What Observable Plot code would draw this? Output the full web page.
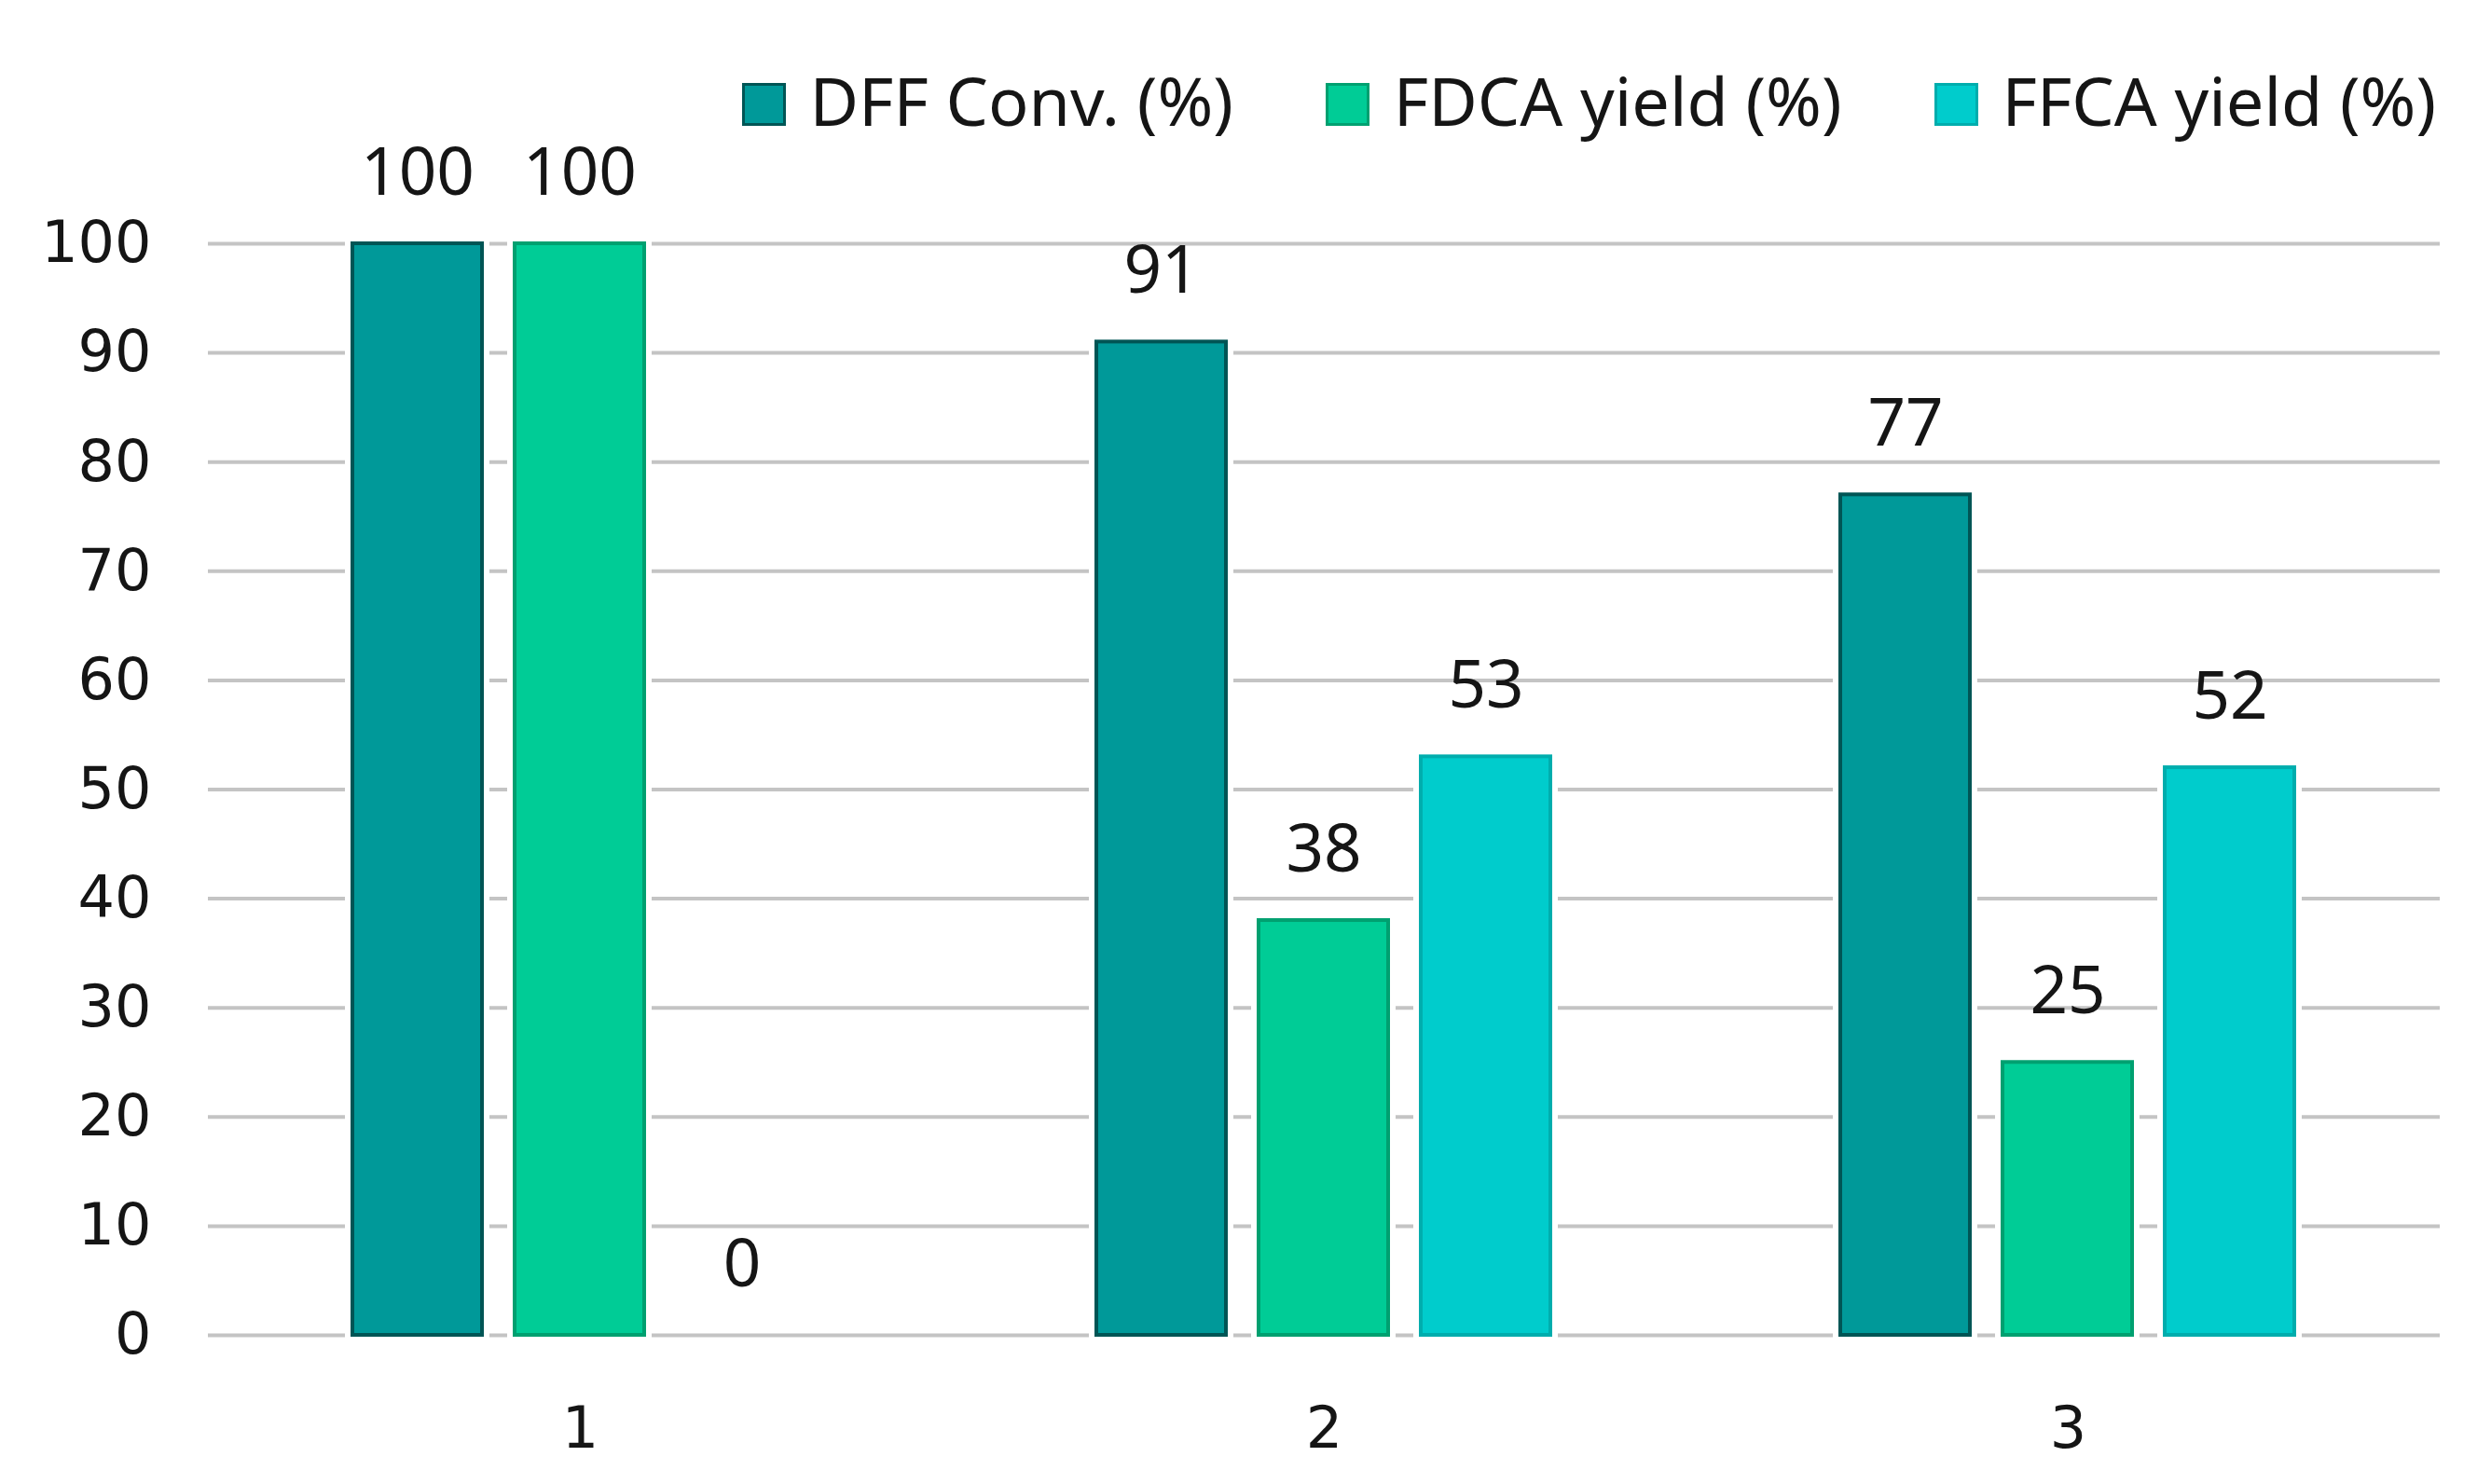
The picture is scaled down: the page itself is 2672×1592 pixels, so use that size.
<!DOCTYPE html>
<html>
<head>
<meta charset="utf-8">
<script src="https://cdn.jsdelivr.net/npm/d3@7"></script>
<script src="https://cdn.jsdelivr.net/npm/@observablehq/plot@0.6"></script>
<style>
  html, body { margin: 0; padding: 0; background: #ffffff; }
  #wrap { width: 2672px; height: 1592px; position: relative; background: #ffffff; }
  #legend {
    box-sizing: border-box; height: 150px; padding-top: 71px; padding-right: 59px;
    display: flex; justify-content: flex-end; align-items: flex-start;
    font-family: "Noto Sans", sans-serif; font-size: 72px; line-height: 72px; color: #151515;
  }
  .item { white-space: nowrap; margin-left: 99px; }
  .item:first-child { margin-left: 0; }
  .sw { display: inline-block; width: 41px; height: 40px; margin-right: 26px; vertical-align: baseline; border: 3px solid; }
</style>
</head>
<body>
<div id="wrap">
  <div id="legend"></div>
  <div id="chart"></div>
</div>
<script>
// ---- data ----
const groups = ["1", "2", "3"];
const seriesNames = ["DFF Conv. (%)", "FDCA yield (%)", "FFCA yield (%)"];
const dffConv = [100, 91, 77];
const fdcaYield = [100, 38, 25];
const ffcaYield = [0, 53, 52];
const yTicks = [0, 10, 20, 30, 40, 50, 60, 70, 80, 90, 100];
const fillColors = ["#009999", "#00CC96", "#00CCCC"];
const edgeColors = ["#005555", "#00A070", "#00ADAD"];

const seriesValues = [dffConv, fdcaYield, ffcaYield];
const rows = [];
groups.forEach((g, gi) => {
  seriesNames.forEach((s, si) => {
    rows.push({group: g, series: s, value: seriesValues[si][gi]});
  });
});
const visibleRows = rows.filter(d => d.value > 0);

// ---- legend ----
const legend = document.getElementById("legend");
seriesNames.forEach((s, i) => {
  const item = document.createElement("span");
  item.className = "item";
  const sw = document.createElement("span");
  sw.className = "sw";
  sw.style.background = fillColors[i];
  sw.style.borderColor = edgeColors[i];
  item.appendChild(sw);
  item.appendChild(document.createTextNode(s));
  legend.appendChild(item);
});

// ---- chart ----
const tickFont = "DejaVu Sans, Verdana, sans-serif";
const labelFont = "Noto Sans, sans-serif";
const textColor = "#151515";
const marks = [
  Plot.ruleY(yTicks, {stroke: "#C4C4C4", strokeWidth: 4}),
  Plot.barY(visibleRows, {fx: "group", x: "series", y: "value", fill: "white", stroke: "white", strokeWidth: 16})
];
seriesNames.forEach((s, i) => {
  marks.push(Plot.barY(visibleRows.filter(d => d.series === s), {
    fx: "group", x: "series", y: "value",
    fill: fillColors[i], stroke: edgeColors[i], strokeWidth: 4
  }));
});
marks.push(
  Plot.text(rows, {
    fx: "group", x: "series", y: "value", text: d => String(d.value),
    lineAnchor: "bottom", dy: -53, fontSize: 71, fontFamily: labelFont, fill: textColor
  }),
  Plot.axisY({ticks: yTicks, tickSize: 0, tickPadding: 61, fontSize: 62, fontFamily: tickFont, fill: textColor, label: null}),
  Plot.axisFx({anchor: "bottom", tickSize: 0, tickPadding: 76, fontSize: 62, fontFamily: tickFont, fill: textColor, label: null})
);

const chart = Plot.plot({
  width: 2672,
  height: 1442,
  marginTop: 111,
  marginBottom: 160,
  marginLeft: 222,
  marginRight: 54,
  style: {background: "white", overflow: "visible"},
  fx: {domain: groups, padding: 0, label: null},
  x: {domain: seriesNames, paddingInner: 0.2, paddingOuter: 0.883, axis: null},
  y: {domain: [0, 100], axis: null},
  marks
});
document.getElementById("chart").appendChild(chart);
</script>
</body>
</html>
